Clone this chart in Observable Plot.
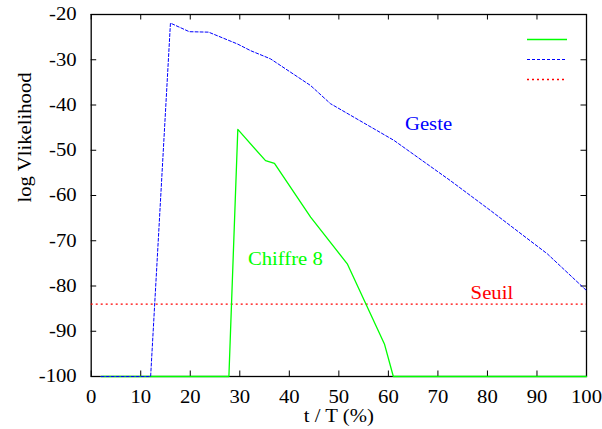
<!DOCTYPE html>
<html><head><meta charset="utf-8">
<script src="https://cdn.jsdelivr.net/npm/d3@7"></script>
<script src="https://cdn.jsdelivr.net/npm/@observablehq/plot@0.6"></script>
<style>
html,body{margin:0;padding:0;background:#fff;}
#wrap{position:relative;width:602px;height:429px;}
#legend{position:absolute;left:0;top:0;pointer-events:none;}
svg text{font-family:"Liberation Serif","DejaVu Serif",serif !important;}
</style>
</head><body><div id="wrap"></div>
<script>
// ---- data ----
const chiffreT  = [2, 27.8, 29.6, 35.2, 37.0, 44.3, 51.7, 59.2, 61.0, 100];
const chiffreLL = [-100, -100, -45.4, -52.3, -52.9, -64.8, -75.1, -92.8, -100, -100];

const gesteT  = [2, 12, 16, 19.8, 23.7, 29.5, 32.2, 36.2, 44.3, 48.3, 61.1, 72.5, 80.6, 92.1, 100];
const gesteLL = [-100, -100, -21.9, -23.8, -23.9, -26.5, -28.0, -29.8, -35.7, -39.7, -47.8, -56.7, -63.3, -72.9, -81];

const seuil = -84;

const xTicks = [0, 10, 20, 30, 40, 50, 60, 70, 80, 90, 100];
const yTicks = [-100, -90, -80, -70, -60, -50, -40, -30, -20];

const labelTexts  = ["Geste", "Chiffre 8", "Seuil"];
const labelT      = [68.1, 39.2, 80.9];
const labelLL     = [-44.3, -74.1, -81.5];
const labelColors = ["#0000ff", "#00ff00", "#ff0000"];

const xLabel = "t / T (%)";
const yLabel = "log Vlikelihood";

// ---- layout ----
const W = 602, H = 429;
const mL = 90.7, mR = 16, mT = 14, mB = 53;
const fw = W - mL - mR, fh = H - mT - mB;
const tk = 5.5;
const serif = "'Liberation Serif', 'DejaVu Serif', serif";

const chiffre = chiffreT.map((t, i) => ({t, v: chiffreLL[i]}));
const geste = gesteT.map((t, i) => ({t, v: gesteLL[i]}));
const labels = labelTexts.map((s, i) => ({s, t: labelT[i], v: labelLL[i], c: labelColors[i]}));

const chart = Plot.plot({
  width: W, height: H,
  marginLeft: mL, marginRight: mR, marginTop: mT, marginBottom: mB,
  style: {fontFamily: serif, fontSize: "18px", background: "#fff", color: "#000"},
  x: {domain: [0, 100], label: null},
  y: {domain: [-100, -20], label: null},
  color: {type: "identity"},
  marks: [
    Plot.frame({stroke: "#000", strokeWidth: 1.3}),
    Plot.axisX({ticks: xTicks, tickSize: 0, tickPadding: 14, tickFormat: d => String(d), label: null, fill: "#000", fontFamily: serif}),
    Plot.axisY({ticks: yTicks, tickSize: 0, tickPadding: 14.5, tickFormat: d => String(d), label: null, fill: "#000", fontFamily: serif}),
    Plot.tickX(xTicks, {x: d => d, insetTop: fh - tk, stroke: "#000", strokeWidth: 1}),
    Plot.tickX(xTicks, {x: d => d, insetBottom: fh - tk, stroke: "#000", strokeWidth: 1}),
    Plot.tickY(yTicks, {y: d => d, insetRight: fw - tk, stroke: "#000", strokeWidth: 1}),
    Plot.tickY(yTicks, {y: d => d, insetLeft: fw - tk, stroke: "#000", strokeWidth: 1}),
    Plot.ruleY([seuil], {y: d => d, stroke: "#ff0000", strokeWidth: 1.2, strokeDasharray: "2,3"}),
    Plot.line(chiffre, {x: "t", y: "v", stroke: "#00ff00", strokeWidth: 1.3}),
    Plot.line(geste, {x: "t", y: "v", stroke: "#0000ff", strokeWidth: 1, strokeDasharray: "3,2"}),
    Plot.text(labels, {x: "t", y: "v", text: "s", fill: "c", fontFamily: serif}),
    Plot.text([xLabel], {frameAnchor: "bottom", text: d => d, dy: 45, fill: "#000", fontFamily: serif}),
    Plot.text([yLabel], {frameAnchor: "left", text: d => d, rotate: -90, dx: -66, dy: 7, fill: "#000", fontFamily: serif})
  ]
});

const wrap = document.getElementById("wrap");
wrap.appendChild(chart);

// gnuplot-style wide glyphs: stretch every text along its baseline
chart.querySelectorAll("text").forEach(t => {
  t.setAttribute("font-family", serif);
  t.style.fontFamily = serif;
});
chart.querySelectorAll("text").forEach(t => {
  const len = t.getComputedTextLength();
  if (len > 0) {
    t.setAttribute("textLength", (len * 1.15).toFixed(2));
    t.setAttribute("lengthAdjust", "spacingAndGlyphs");
  }
});

// key samples (gnuplot key with empty titles)
const ns = "http://www.w3.org/2000/svg";
const leg = document.createElementNS(ns, "svg");
leg.setAttribute("id", "legend");
leg.setAttribute("width", W);
leg.setAttribute("height", H);
const keyStyles = [
  {stroke: "#00ff00", dash: "none", w: 1.3},
  {stroke: "#0000ff", dash: "3,2", w: 1.2},
  {stroke: "#ff0000", dash: "2,3", w: 1.3}
];
keyStyles.forEach((s, i) => {
  const l = document.createElementNS(ns, "line");
  l.setAttribute("x1", 527); l.setAttribute("x2", 567);
  l.setAttribute("y1", 39.5 + 20 * i); l.setAttribute("y2", 39.5 + 20 * i);
  l.setAttribute("style", `stroke:${s.stroke};stroke-width:${s.w}px;stroke-dasharray:${s.dash};fill:none`);
  leg.appendChild(l);
});
wrap.appendChild(leg);
</script>
</body></html>
